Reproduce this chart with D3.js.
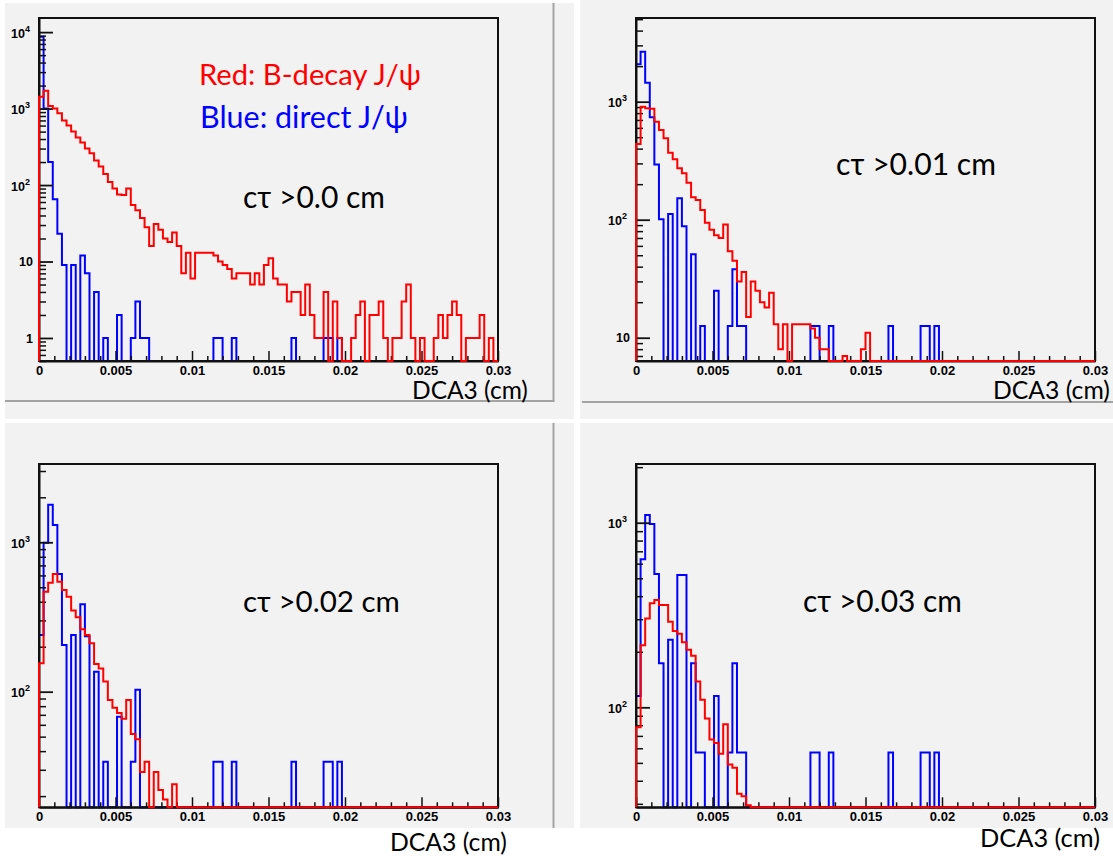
<!DOCTYPE html>
<html><head><meta charset="utf-8">
<script src="https://cdn.jsdelivr.net/npm/d3@7"></script>
<style>body{margin:0;background:#fff;} svg{display:block;}
.axlbl{font-family:'Liberation Sans', Arial, Helvetica, sans-serif; font-weight:bold; fill:#000;}
</style>
</head><body>
<svg id="c" width="1113" height="856"></svg>
<script>
// ---------------- data ----------------
const N_BINS = 100, BIN_W = 0.0003;           // DCA3 bins, 0 .. 0.03 cm
const xTickValues = [0, 0.005, 0.01, 0.015, 0.02, 0.025, 0.03];
const xTickLabels = ["0", "0.005", "0.01", "0.015", "0.02", "0.025", "0.03"];
const xAxisTitle = "DCA3 (cm)";
const legendLabels = ["Red: B-decay J/\u03c8", "Blue: direct J/\u03c8"];
const panelTitles = ["c\u03c4 >0.0 cm", "c\u03c4 >0.01 cm", "c\u03c4 >0.02 cm", "c\u03c4 >0.03 cm"];

// y decades shown per panel
const yDecades1 = [1, 10, 100, 1000, 10000];
const yDecades2 = [10, 100, 1000];
const yDecades3 = [100, 1000];
const yDecades4 = [100, 1000];

// panel 1 : ct > 0.0 cm
const red1 = [1430,1710,1080,1000,870,700,600,500,420,360,
  300,260,210,175,140,110,90,75,74,90,
  55,47,37,28,16,31,26,20,18,24,
  16,7,13,6,13,13,13,13,12,10,
  9,8,6,7,7,7,5,7,5,9,
  11,6,5,5,3,4,4,2,5,2,
  1,1,4,0,3,1,0,0,1,2,
  3,0,2,2,3,1,0,1,1,3,
  5,1,0,1,0,0,1,2,1,2,
  3,2,0,1,1,1,2,0,1,0];
const blue1 = [8700,1000,200,65,23,9,0,9,0,12,
  7,0,4,0,1,0,0,2,0,0,
  1,3,1,1,0,0,0,0,0,0,
  0,0,0,0,0,0,0,0,1,1,
  0,0,1,0,0,0,0,0,0,0,
  0,0,0,0,0,1,0,0,0,0,
  0,0,1,1,0,1,0,0,0,0,
  0,0,0,0,0,0,0,0,0,0,
  0,0,0,0,0,0,0,0,0,0,
  0,0,0,0,0,0,0,0,0,0];

// panel 2 : ct > 0.01 cm
const red2 = [437,908,880,870,676,575,490,370,325,273,
  247,206,155,147,121,94,82,74,70,91,
  54,45,30,36,15,30,25,20,18,24,
  13,8,13,0,13,13,13,13,12,10,
  8,8,0,0,0,7,0,0,0,8,
  11,0,0,0,0,0,0,0,0,0,
  0,0,0,0,0,0,0,0,0,0,
  0,0,0,0,0,0,0,0,0,0,
  0,0,0,0,0,0,0,0,0,0,
  0,0,0,0,0,0,0,0,0,0];
const blue2 = [2080,2650,1450,738,294,101,0,112,0,152,
  88,0,51,0,12.6,0,0,25,0,0,
  12.6,38,12.6,12.6,0,0,0,0,0,0,
  0,0,0,0,0,0,0,0,12.6,12.6,
  0,0,12.6,0,0,0,0,0,0,0,
  0,0,0,0,0,12.6,0,0,0,0,
  0,0,12.6,12.6,0,12.6,0,0,0,0,
  0,0,0,0,0,0,0,0,0,0,
  0,0,0,0,0,0,0,0,0,0,
  0,0,0,0,0,0,0,0,0,0];

// panel 3 : ct > 0.02 cm
const red3 = [155,467,537,614,545,479,432,349,315,262,
  240,211,153,143,117,88,78,72,66,88,
  52,48,29,34,0,29,22,19,0,24,
  0,0,0,0,0,0,0,0,0,0,
  0,0,0,0,0,0,0,0,0,0,
  0,0,0,0,0,0,0,0,0,0,
  0,0,0,0,0,0,0,0,0,0,
  0,0,0,0,0,0,0,0,0,0,
  0,0,0,0,0,0,0,0,0,0,
  0,0,0,0,0,0,0,0,0,0];
const blue3 = [240,993,1780,1306,614,205,0,240,0,385,
  235,0,136,0,34,0,0,68,0,0,
  34,103,0,0,0,0,0,0,0,0,
  0,0,0,0,0,0,0,0,34,34,
  0,0,34,0,0,0,0,0,0,0,
  0,0,0,0,0,34,0,0,0,0,
  0,0,34,34,0,34,0,0,0,0,
  0,0,0,0,0,0,0,0,0,0,
  0,0,0,0,0,0,0,0,0,0,
  0,0,0,0,0,0,0,0,0,0];

// panel 4 : ct > 0.03 cm
const red4 = [78,217,303,366,381,358,358,291,259,250,
  225,205,190,138,110,87,67,64,56,81,
  49,47,34,33,29.5,0,0,0,0,0,
  0,0,0,0,0,0,0,0,0,0,
  0,0,0,0,0,0,0,0,0,0,
  0,0,0,0,0,0,0,0,0,0,
  0,0,0,0,0,0,0,0,0,0,
  0,0,0,0,0,0,0,0,0,0,
  0,0,0,0,0,0,0,0,0,0,
  0,0,0,0,0,0,0,0,0,0];
const blue4 = [115,633,1100,985,527,173,0,232,0,521,
  521,0,173,57,57,0,0,115,0,0,
  57,173,57,57,0,0,0,0,0,0,
  0,0,0,0,0,0,0,0,57,57,
  0,0,57,0,0,0,0,0,0,0,
  0,0,0,0,0,57,0,0,0,0,
  0,0,57,57,0,57,0,0,0,0,
  0,0,0,0,0,0,0,0,0,0,
  0,0,0,0,0,0,0,0,0,0,
  0,0,0,0,0,0,0,0,0,0];

// ---------------- layout ----------------
const panels = [
  {red: red1, blue: blue1, dec: yDecades1, ymin: 0.5,  ymax: 15300, fx0: 39,  fx1: 498,  fy0: 18,  fy1: 361,
   title: {x: 243, y: 208, w: 142}, xt: {x: 412, y: 399, w: 116}},
  {red: red2, blue: blue2, dec: yDecades2, ymin: 6.35, ymax: 5117,  fx0: 636, fx1: 1095, fy0: 18,  fy1: 361,
   title: {x: 836, y: 175, w: 160}, xt: {x: 993, y: 399, w: 117}},
  {red: red3, blue: blue3, dec: yDecades3, ymin: 16.83, ymax: 3342, fx0: 39,  fx1: 498,  fy0: 464, fy1: 807.3,
   title: {x: 243, y: 612, w: 157}, xt: {x: 390, y: 851, w: 117}},
  {red: red4, blue: blue4, dec: yDecades4, ymin: 28.73, ymax: 2080, fx0: 636, fx1: 1095, fy0: 464, fy1: 807.3,
   title: {x: 803, y: 612, w: 159}, xt: {x: 980, y: 847, w: 120}}
];

const svg = d3.select("#c");
const TXT_FONT = "Lato, 'Open Sans', 'Noto Sans', sans-serif";

// window backgrounds
const bgRects = [[5,3,569,416],[580,0,533,419],[5,423,569,405],[580,423,533,405]];
svg.selectAll("rect.bg").data(bgRects).join("rect").attr("class","bg")
  .attr("x",d=>d[0]).attr("y",d=>d[1]).attr("width",d=>d[2]).attr("height",d=>d[3]).attr("fill","#f2f2f2");
const borderLines = [[553.5,3,553.5,401],[5,401,554.5,401],[582,402,1113,402],[553.5,423,553.5,828]];
svg.selectAll("line.bd").data(borderLines).join("line").attr("class","bd")
  .attr("x1",d=>d[0]).attr("y1",d=>d[1]).attr("x2",d=>d[2]).attr("y2",d=>d[3])
  .attr("stroke","#a3a3a3").attr("stroke-width",2);

function fitText(sel, w) {
  const l = sel.node().getComputedTextLength();
  const fs = parseFloat(sel.attr("font-size"));
  sel.attr("font-size", fs * w / l);
}

function histPath(vals, x, y, ymin, ymax) {
  const pts = [[0, ymin]];
  vals.forEach((v, i) => {
    const c = Math.max(ymin, Math.min(ymax, v));
    pts.push([i * BIN_W, c], [(i + 1) * BIN_W, c]);
  });
  pts.push([N_BINS * BIN_W, ymin]);
  return d3.line().x(d => x(d[0])).y(d => y(d[1]))(pts);
}

panels.forEach((p, k) => {
  const g = svg.append("g");
  const x = d3.scaleLinear().domain([0, 0.03]).range([p.fx0, p.fx1]);
  const y = d3.scaleLog().domain([p.ymin, p.ymax]).range([p.fy1, p.fy0]);

  // first histogram (blue) is drawn beneath the axes
  g.append("path").attr("d", histPath(p.blue, x, y, p.ymin, p.ymax))
    .attr("fill", "none").attr("stroke", "#0000ff").attr("stroke-width", 2);

  // frame
  g.append("rect").attr("x", p.fx0).attr("y", p.fy0)
    .attr("width", p.fx1 - p.fx0).attr("height", p.fy1 - p.fy0)
    .attr("fill", "none").attr("stroke", "#111").attr("stroke-width", 2);

  // x axis: major + minor ticks pointing inward
  const xMinor = d3.range(0, 31).map(i => i * 0.001).filter(v => !xTickValues.some(t => Math.abs(t - v) < 1e-9));
  const xaxMaj = d3.axisBottom(x).tickValues(xTickValues).tickSize(-10).tickSizeOuter(0)
    .tickFormat((d, i) => xTickLabels[i]).tickPadding(4);
  const gx = g.append("g").attr("transform", `translate(0,${p.fy1})`).call(xaxMaj);
  gx.select(".domain").attr("stroke", "#111").attr("stroke-width", 2);
  gx.selectAll(".tick line").attr("stroke", "#111").attr("stroke-width", 1.5);
  gx.selectAll(".tick text").attr("class", "axlbl").style("font-size", "13px")
    .attr("y", 13.5).attr("dy", 0);
  const gxm = g.append("g").attr("transform", `translate(0,${p.fy1})`)
    .call(d3.axisBottom(x).tickValues(xMinor).tickSize(-5).tickSizeOuter(0).tickFormat(""));
  gxm.select(".domain").remove();
  gxm.selectAll(".tick line").attr("stroke", "#111").attr("stroke-width", 1.5);

  // y axis (log): decades + minor ticks
  const yMinor = [];
  for (let e = -1; e <= 5; e++) for (let m = 2; m <= 9; m++) {
    const v = m * Math.pow(10, e);
    if (v >= p.ymin && v <= p.ymax) yMinor.push(v);
  }
  const gy = g.append("g").attr("transform", `translate(${p.fx0},0)`)
    .call(d3.axisLeft(y).tickValues(p.dec).tickSize(-14).tickSizeOuter(0).tickFormat(""));
  gy.select(".domain").attr("stroke", "#111").attr("stroke-width", 2);
  gy.selectAll(".tick line").attr("stroke", "#111").attr("stroke-width", 1.8);
  const gym = g.append("g").attr("transform", `translate(${p.fx0},0)`)
    .call(d3.axisLeft(y).tickValues(yMinor).tickSize(-7).tickSizeOuter(0).tickFormat(""));
  gym.select(".domain").remove();
  gym.selectAll(".tick line").attr("stroke", "#111").attr("stroke-width", 1.5);

  // y labels: 1, 10, 10^n
  p.dec.forEach(v => {
    const e = Math.round(Math.log10(v));
    const ty = y(v);
    if (e <= 1) {
      g.append("text").attr("class", "axlbl").style("font-size", "12.5px")
        .attr("x", p.fx0 - 6).attr("y", ty + 4.6).attr("text-anchor", "end").text(String(v));
    } else {
      const t = g.append("text").attr("class", "axlbl").style("font-size", "12.5px")
        .attr("x", p.fx0 - 28).attr("y", ty + 5.5).attr("text-anchor", "start");
      t.append("tspan").text("10");
      t.append("tspan").style("font-size", "9px").attr("dy", -6).text(String(e));
    }
  });

  // second histogram (red) drawn on top
  g.append("path").attr("d", histPath(p.red, x, y, p.ymin, p.ymax))
    .attr("fill", "none").attr("stroke", "#ff0000").attr("stroke-width", 2);

  // panel title (c tau cut)
  const tt = g.append("text").attr("x", p.title.x).attr("y", p.title.y)
    .attr("font-family", TXT_FONT).attr("font-size", 26).attr("fill", "#000").text(panelTitles[k]);
  fitText(tt, p.title.w);

  // x axis title
  const xt = g.append("text").attr("x", p.xt.x).attr("y", p.xt.y)
    .attr("font-family", TXT_FONT).attr("font-size", 26).attr("fill", "#000").text(xAxisTitle);
  fitText(xt, p.xt.w);
});

// legend text in panel 1
const l1 = svg.append("text").attr("x", 199).attr("y", 85).attr("font-family", TXT_FONT)
  .attr("font-size", 26).attr("fill", "#ff0000").text(legendLabels[0]);
fitText(l1, 222);
const l2 = svg.append("text").attr("x", 200).attr("y", 128).attr("font-family", TXT_FONT)
  .attr("font-size", 26).attr("fill", "#0000ff").text(legendLabels[1]);
fitText(l2, 208);
</script>
</body></html>
